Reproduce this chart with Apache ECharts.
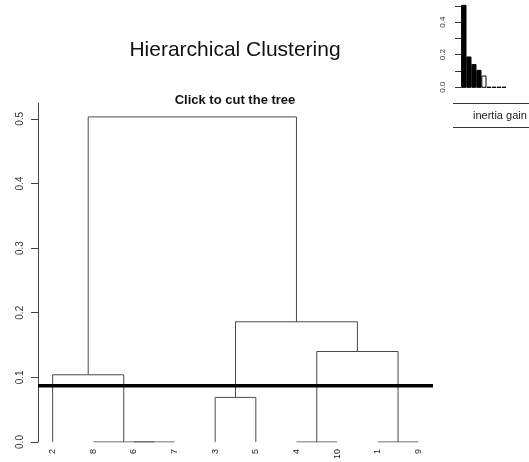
<!DOCTYPE html>
<html>
<head>
<meta charset="utf-8">
<script src="https://cdn.jsdelivr.net/npm/echarts@6/dist/echarts.min.js"></script>
<style>html,body{margin:0;padding:0;background:#fff}#c{width:529px;height:462px}</style>
</head>
<body>
<div id="c"></div>
<script>
// ---- data ----
const leafOrder = ['2', '8', '6', '7', '3', '5', '4', '10', '1', '9'];
// merges: children are leaf labels (strings) or merge ids ('m1'..)
const mergeLeft   = ['6', '8',  '4', '1', '3',    '2',    'm3',   'm5',   'm6'];
const mergeRight  = ['7', 'm1', '10', '9', '5',   'm2',   'm4',   'm7',   'm8'];
const mergeHeight = [0,   0,    0,    0,   0.069, 0.104,  0.140,  0.186,  0.503];
const cutHeight = 0.087;
const yTicks = [0, 0.1, 0.2, 0.3, 0.4, 0.5];
const inertiaGain = [0.503, 0.186, 0.140, 0.104, 0.069, 0, 0, 0, 0];
const gainTicks = [0, 0.1, 0.2, 0.3, 0.4, 0.5];
const gainLabels = [0, 0.2, 0.4];

// ---- build dendrogram segments ----
const pos = {};
leafOrder.forEach((l, i) => { pos[l] = { x: i + 1, h: 0 }; });
const segs = [];
mergeLeft.forEach((a, i) => {
  const b = mergeRight[i], h = mergeHeight[i];
  const pa = pos[a], pb = pos[b];
  segs.push({ coords: [[pa.x, pa.h], [pa.x, h], [pb.x, h], [pb.x, pb.h]] });
  pos['m' + (i + 1)] = { x: (pa.x + pb.x) / 2, h: h };
});

const xMin = 1 - 0.04 * (leafOrder.length - 1);
const xMax = leafOrder.length + 0.04 * (leafOrder.length - 1);

const font = 'Liberation Sans, Arial, sans-serif';
const chart = echarts.init(document.getElementById('c'), null, { renderer: 'canvas' });
chart.setOption({
  animation: false,
  backgroundColor: '#fff',
  grid: [
    { left: 38, top: 103, width: 395, height: 342 },
    { left: 461, top: 5.8, width: 50, height: 81.5 }
  ],
  xAxis: [
    {
      gridIndex: 0, type: 'value', min: xMin, max: xMax,
      axisLine: { show: false }, axisTick: { show: false }, splitLine: { show: false },
      axisLabel: {
        customValues: leafOrder.map((l, i) => i + 1),
        formatter: v => leafOrder[Math.round(v) - 1],
        rotate: 90, margin: 7, fontSize: 9, color: '#222', fontFamily: font
      }
    },
    {
      gridIndex: 1, type: 'value', min: 0, max: 12, show: false
    }
  ],
  yAxis: [
    {
      gridIndex: 0, type: 'value', min: 0, max: 342 / 652,
      splitLine: { show: false },
      axisLine: { show: true, lineStyle: { color: '#444', width: 1 } },
      axisTick: { show: true, customValues: yTicks, length: 7, lineStyle: { color: '#444' } },
      axisLabel: {
        customValues: yTicks, formatter: v => v.toFixed(1),
        rotate: 90, margin: 13, fontSize: 10, color: '#333', fontFamily: font
      }
    },
    {
      gridIndex: 1, type: 'value', min: 0, max: 0.5,
      splitLine: { show: false },
      axisLine: { show: true, lineStyle: { color: '#333', width: 1 } },
      axisTick: { show: true, customValues: gainTicks, length: 6, lineStyle: { color: '#333' } },
      axisLabel: {
        customValues: gainLabels, formatter: v => v.toFixed(1),
        rotate: 90, margin: 14, fontSize: 8, color: '#333', fontFamily: font
      }
    }
  ],
  series: [
    {
      type: 'lines', coordinateSystem: 'cartesian2d', xAxisIndex: 0, yAxisIndex: 0,
      polyline: true, silent: true,
      lineStyle: { color: '#4a4a4a', width: 1, opacity: 1 },
      data: segs
    },
    {
      type: 'line', xAxisIndex: 0, yAxisIndex: 0, symbol: 'none', silent: true,
      lineStyle: { color: '#000', width: 3.5 },
      data: [[xMin, cutHeight], [xMax, cutHeight]]
    },
    {
      type: 'custom', xAxisIndex: 1, yAxisIndex: 1, clip: false,
      data: inertiaGain.map((v, i) => [i, v]),
      renderItem: (params, api) => {
        const i = api.value(0), v = api.value(1);
        const left = 0.2 + 1.2 * i;
        const p0 = api.coord([left, 0]);
        const p1 = api.coord([left + 1, v]);
        return {
          type: 'rect',
          shape: { x: p0[0], y: p1[1], width: p1[0] - p0[0], height: p0[1] - p1[1] },
          style: { fill: v > cutHeight ? '#000' : '#fff', stroke: '#000', lineWidth: 1 }
        };
      }
    }
  ],
  graphic: [
    { type: 'text', x: 235, y: 50, style: { text: 'Hierarchical Clustering', font: '21px ' + font, fill: '#111', align: 'center', verticalAlign: 'middle' } },
    { type: 'text', x: 235, y: 100, style: { text: 'Click to cut the tree', font: 'bold 13px ' + font, fill: '#111', align: 'center', verticalAlign: 'middle' } },
    { type: 'line', shape: { x1: 453, y1: 103.5, x2: 529, y2: 103.5 }, style: { stroke: '#333', lineWidth: 1 } },
    { type: 'line', shape: { x1: 453, y1: 127.5, x2: 529, y2: 127.5 }, style: { stroke: '#333', lineWidth: 1 } },
    { type: 'text', x: 473, y: 116, style: { text: 'inertia gain', font: '11px ' + font, fill: '#222', align: 'left', verticalAlign: 'middle' } }
  ]
});
</script>
</body>
</html>
